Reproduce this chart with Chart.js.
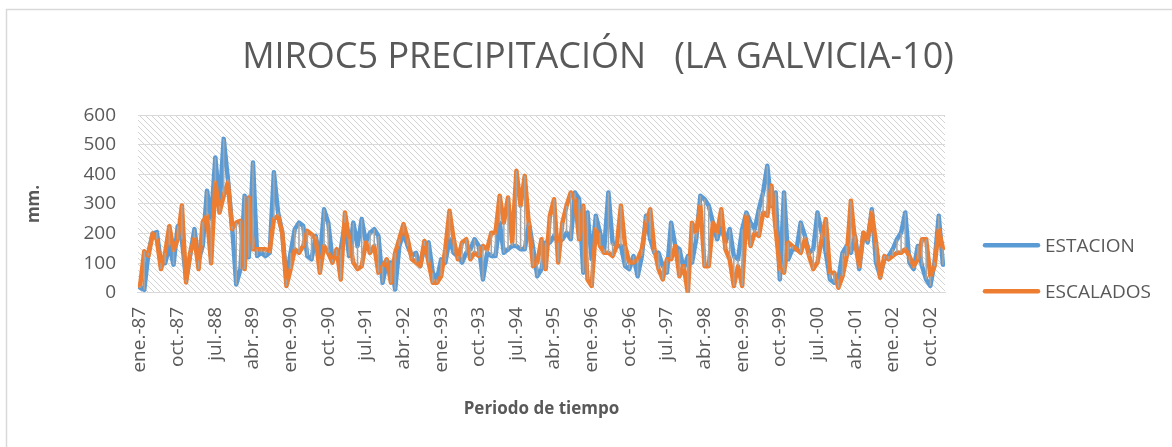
<!DOCTYPE html>
<html>
<head>
<meta charset="utf-8">
<script src="https://cdn.jsdelivr.net/npm/chart.js@4.4.1/dist/chart.umd.min.js"></script>
<style>
  html, body { margin: 0; background: #fff; }
  #wrap { width: 1172px; height: 447px; position: relative; }
</style>
</head>
<body>
<div id="wrap"><canvas id="c"></canvas></div>
<script>
// month names and years for the category axis
const monthNames = ['ene.', 'feb.', 'mar.', 'abr.', 'may.', 'jun.', 'jul.', 'ago.', 'sep.', 'oct.', 'nov.', 'dic.'];
const years = ['87', '88', '89', '90', '91', '92', '93', '94', '95', '96', '97', '98', '99', '00', '01', '02', '03'];
const yTicks = [0, 100, 200, 300, 400, 500, 600];

// monthly precipitation (mm), ene.-87 .. ene.-03
const estacion = [
  17, 10, 135, 200, 205, 100, 100, 160, 95, 225, 180, 45,
  130, 215, 110, 160, 345, 250, 457, 294, 520, 384, 226, 28,
  80, 328, 120, 440, 124, 135, 124, 135, 407, 271, 203, 45,
  135, 215, 237, 226, 124, 113, 192, 113, 282, 237, 113, 124,
  147, 237, 124, 237, 158, 249, 170, 203, 215, 192, 34, 102,
  102, 11, 158, 203, 158, 124, 135, 90, 158, 170, 68, 45,
  113, 102, 181, 135, 124, 102, 135, 147, 181, 158, 45, 135,
  124, 124, 237, 135, 147, 158, 158, 147, 147, 237, 150, 56,
  80, 170, 170, 192, 170, 181, 203, 181, 339, 316, 68, 271,
  113, 260, 203, 147, 339, 170, 158, 158, 90, 80, 124, 56,
  124, 260, 181, 135, 135, 90, 68, 237, 158, 147, 80, 124,
  102, 181, 328, 316, 294, 237, 181, 226, 170, 215, 124, 113,
  215, 271, 237, 215, 282, 339, 429, 294, 339, 45, 339, 113,
  147, 147, 237, 192, 135, 147, 271, 203, 135, 45, 34, 45,
  135, 158, 135, 192, 80, 203, 170, 282, 102, 56, 113, 124,
  147, 181, 203, 271, 102, 80, 158, 90, 45, 23, 102, 260,
  95
];
const escalados = [
  23, 140, 125, 200, 180, 80, 135, 225, 145, 180, 295, 35,
  135, 185, 80, 240, 260, 100, 373, 271, 328, 373, 215, 237,
  243, 80, 322, 147, 147, 147, 147, 141, 249, 260, 203, 23,
  80, 147, 135, 158, 209, 198, 181, 68, 158, 135, 102, 147,
  45, 271, 181, 102, 80, 90, 170, 135, 158, 68, 90, 113,
  34, 135, 181, 232, 181, 113, 102, 90, 175, 102, 34, 34,
  56, 147, 277, 181, 113, 170, 181, 113, 135, 124, 158, 147,
  203, 203, 328, 237, 322, 170, 412, 294, 395, 226, 90, 102,
  181, 80, 260, 316, 102, 237, 294, 339, 316, 181, 294, 45,
  23, 215, 158, 135, 135, 124, 158, 294, 158, 102, 102, 113,
  147, 237, 282, 147, 80, 45, 113, 113, 158, 56, 90, 0,
  237, 203, 294, 90, 90, 237, 203, 282, 147, 113, 23, 90,
  23, 260, 158, 203, 192, 271, 260, 362, 215, 80, 68, 170,
  158, 147, 135, 181, 124, 80, 102, 181, 249, 68, 68, 17,
  56, 124, 311, 170, 90, 203, 181, 271, 170, 51, 124, 113,
  124, 135, 135, 147, 124, 90, 113, 181, 181, 56, 90, 215,
  150
];

const labels = [];
for (let i = 0; i < estacion.length; i++) {
  labels.push(monthNames[i % 12] + '-' + years[Math.floor(i / 12)]);
}

const textColor = '#595959';
const font = "'Open Sans', sans-serif";

// diagonal hatch for the plot area
function makeHatch(ctx) {
  const p = document.createElement('canvas');
  p.width = 6; p.height = 6;
  const g = p.getContext('2d');
  g.strokeStyle = '#d3d3d3';
  g.lineWidth = 1;
  g.beginPath();
  g.moveTo(0, 0); g.lineTo(6, 6);
  g.moveTo(-1, 5); g.lineTo(1, 7);
  g.moveTo(5, -1); g.lineTo(7, 1);
  g.stroke();
  return ctx.createPattern(p, 'repeat');
}

const backdrop = {
  id: 'backdrop',
  beforeDraw(chart) {
    const { ctx, chartArea: a } = chart;
    ctx.save();
    ctx.strokeStyle = '#d9d9d9';
    ctx.lineWidth = 1.5;
    ctx.strokeRect(6.5, 9.5, 2000, 2000);
    ctx.fillStyle = makeHatch(ctx);
    ctx.fillRect(a.left, a.top, a.right - a.left, a.bottom - a.top);
    ctx.restore();
  }
};

// gray high-low lines between the two series
const highLow = {
  id: 'highLow',
  afterDatasetsDraw(chart) {
    const { ctx, scales: { x, y } } = chart;
    ctx.save();
    ctx.strokeStyle = '#a5a5a5';
    ctx.lineWidth = 1.5;
    ctx.beginPath();
    for (let i = 0; i < estacion.length; i++) {
      const px = x.getPixelForValue(i);
      ctx.moveTo(px, y.getPixelForValue(estacion[i]));
      ctx.lineTo(px, y.getPixelForValue(escalados[i]));
    }
    ctx.stroke();
    ctx.restore();
  }
};

const sideLegend = {
  id: 'sideLegend',
  afterDraw(chart) {
    const { ctx, chartArea: a } = chart;
    ctx.save();
    ctx.font = "19px " + font;
    ctx.textBaseline = 'middle';
    chart.data.datasets.forEach((ds, k) => {
      const ly = a.top + 130 + k * 46;
      const lx = a.right + 40;
      ctx.strokeStyle = ds.borderColor;
      ctx.lineWidth = 4.5;
      ctx.lineCap = 'round';
      ctx.beginPath();
      ctx.moveTo(lx, ly);
      ctx.lineTo(lx + 53, ly);
      ctx.stroke();
      ctx.fillStyle = textColor;
      ctx.fillText(ds.label, lx + 60, ly + 1);
    });
    ctx.restore();
  }
};

new Chart(document.getElementById('c'), {
  type: 'line',
  data: {
    labels: labels,
    datasets: [
      { label: 'ESTACION', data: estacion, borderColor: '#5B9BD5', backgroundColor: '#5B9BD5', order: 2 },
      { label: 'ESCALADOS', data: escalados, borderColor: '#ED7D31', backgroundColor: '#ED7D31', order: 1 }
    ]
  },
  options: {
    responsive: true,
    maintainAspectRatio: false,
    animation: false,
    elements: {
      line: { borderWidth: 4.5, tension: 0, borderJoinStyle: 'round', borderCapStyle: 'round' },
      point: { radius: 0 }
    },
    layout: { padding: { left: 24, right: 0, top: 0, bottom: 28 } },
    plugins: {
      legend: { display: false },
      tooltip: { enabled: false },
      title: {
        display: true,
        text: 'MIROC5 PRECIPITACIÓN   (LA GALVICIA-10)',
        color: textColor,
        font: { family: font, size: 36, weight: 'normal' },
        padding: { top: 36, bottom: 36 }
      }
    },
    scales: {
      x: {
        offset: true,
        grid: { display: false },
        border: { display: true, color: '#d9d9d9', width: 1 },
        ticks: {
          autoSkip: false,
          maxRotation: 90,
          minRotation: 90,
          color: textColor,
          font: { family: font, size: 19 },
          padding: 6,
          callback: (v, i) => (i % 9 === 0 ? labels[i] : null)
        },
        title: {
          display: true,
          text: 'Periodo de tiempo',
          color: textColor,
          font: { family: font, size: 17, weight: 'bold' },
          padding: { top: 20, bottom: 0 }
        }
      },
      y: {
        min: 0,
        max: 600,
        afterBuildTicks: (s) => { s.ticks = yTicks.map(v => ({ value: v })); },
        grid: { color: '#d9d9d9', lineWidth: 1, drawTicks: false },
        border: { display: false },
        ticks: {
          color: textColor,
          font: { family: font, size: 19 },
          padding: 22
        },
        title: {
          display: true,
          text: 'mm.',
          color: textColor,
          font: { family: font, size: 17, weight: 'bold' },
          padding: { top: 0, bottom: 17 }
        }
      },
      // empty right-hand axis that keeps room for the legend
      side: {
        position: 'right',
        grid: { display: false },
        border: { display: false },
        ticks: { display: false },
        afterFit: (s) => { s.width = 227; }
      }
    }
  },
  plugins: [backdrop, highLow, sideLegend]
});
</script>
</body>
</html>
